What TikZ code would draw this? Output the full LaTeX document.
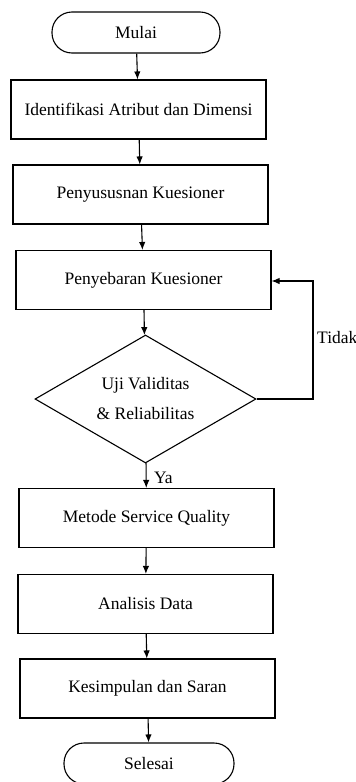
\documentclass[tikz,border=0pt]{standalone}
\usepackage{fontspec}
\setmainfont{Liberation Serif}
\usetikzlibrary{shapes.geometric,arrows.meta}
\begin{document}
\begin{tikzpicture}[x=1pt,y=-1pt,
  every node/.style={font=\fontsize{17.5}{21}\selectfont},
  proc/.style={draw,line width=1.1pt,minimum width=255pt,minimum height=59pt,inner sep=0pt},
  term/.style={draw,line width=1.1pt,rounded corners=20pt,minimum width=168pt,minimum height=41pt,inner sep=0pt},
  arr/.style={line width=1.1pt,-{Latex[length=8pt,width=6.5pt]}}]
\useasboundingbox (0,0) rectangle (356,782);
\node[term] (mulai) at (136,32.5) {Mulai};
\node[proc] (b1) at (138.5,109.5) {Identifikasi Atribut dan Dimensi};
\node[proc] (b2) at (140.5,194.5) {Penyususnan Kuesioner};
\node[proc] (b3) at (143.5,280) {Penyebaran Kuesioner};
\node[diamond,draw,line width=1.1pt,minimum width=221pt,minimum height=128pt,inner sep=0pt,aspect=1.73,align=center] (d) at (145.5,399) {Uji Validitas\\[9pt]\& Reliabilitas};
\node[proc] (b4) at (146.5,518) {Metode Service Quality};
\node[proc] (b5) at (145.5,604) {Analisis Data};
\node[proc] (b6) at (147.5,688.5) {Kesimpulan dan Saran};
\node[term,minimum width=170pt] (selesai) at (149,763.5) {Selesai};
\coordinate (c1) at (313,399);
\coordinate (c2) at (313,281);
\draw[arr] (mulai) -- (b1);
\draw[arr] (b1) -- (b2);
\draw[arr] (b2) -- (b3);
\draw[arr] (b3) -- (d);
\draw[arr] (d) -- node[right,xshift=4pt,yshift=-2pt]{Ya} (b4);
\draw[arr] (b4) -- (b5);
\draw[arr] (b5) -- (b6);
\draw[arr] (b6) -- (selesai);
\draw[arr] (d.east) -- (c1) -- (c2) -- (b3.east |- c2);
\node[anchor=west,inner sep=0pt] (tidak) at (317,338) {Tidak};
\end{tikzpicture}
\end{document}
